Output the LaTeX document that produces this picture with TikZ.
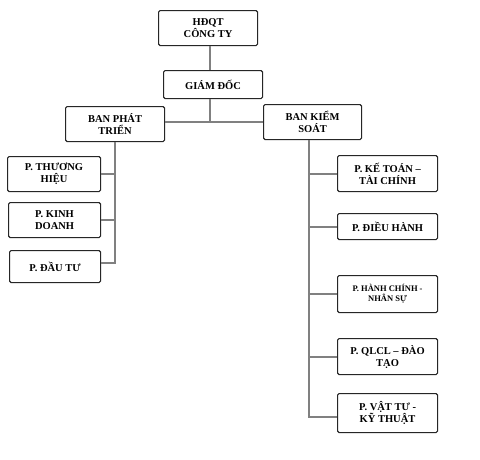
\documentclass[tikz,border=0pt]{standalone}
\usepackage{fontspec}
\setmainfont{Liberation Serif}
\begin{document}
\begin{tikzpicture}[x=1pt,y=-1pt,
  box/.style={draw=black!85,line width=1.1pt,rounded corners=1.5pt,fill=white,
    font=\bfseries\fontsize{10.5}{12}\selectfont,align=center,inner sep=0pt,anchor=north west},
  link/.style={draw=black!50,line width=2pt}]
\useasboundingbox[fill=white] (0,0) rectangle (480,459);
% connector coordinates
\coordinate (top) at (210,44);
\coordinate (mid) at (210,122);
\coordinate (lt) at (115,263);
\coordinate (rb) at (309,417);
% nodes
\node[box,minimum width=99pt,minimum height=35pt] (hdqt) at (158,10) {HĐQT\\CÔNG TY};
\node[box,minimum width=99pt,minimum height=28pt] (gd) at (163,70) {GIÁM ĐỐC};
\node[box,minimum width=99pt,minimum height=35pt] (bpt) at (65,106) {BAN PHÁT\\TRIỂN};
\node[box,minimum width=98pt,minimum height=35pt] (bks) at (263,104) {BAN KIỂM\\SOÁT};
\node[box,minimum width=93pt,minimum height=35pt] (th) at (7,156) {P. THƯƠNG\\HIỆU};
\node[box,minimum width=92pt,minimum height=35pt] (kd) at (8,202) {P. KINH\\DOANH};
\node[box,minimum width=91pt,minimum height=32pt] (dt) at (9,250) {P. ĐẦU TƯ};
\node[box,minimum width=100pt,minimum height=36pt] (kt) at (337,155) {P. KẾ TOÁN –\\TÀI CHÍNH};
\node[box,minimum width=100pt,minimum height=26pt] (dh) at (337,213) {P. ĐIỀU HÀNH};
\node[box,minimum width=100pt,minimum height=37pt,font=\bfseries\fontsize{8.5}{10}\selectfont] (hc) at (337,275) {P. HÀNH CHÍNH -\\NHÂN SỰ};
\node[box,minimum width=100pt,minimum height=36pt] (ql) at (337,338) {P. QLCL – ĐÀO\\TẠO};
\node[box,minimum width=100pt,minimum height=39pt] (vt) at (337,393) {P. VẬT TƯ -\\KỸ THUẬT};
% connectors
\draw[link] (top |- hdqt.south) -- (top |- gd.north);
\draw[link] (mid |- gd.south) -- (mid);
\draw[link] (bpt.east |- mid) -- (bks.west |- mid);
\draw[link] (bpt.south -| lt) -- (lt) -- (dt.east |- lt);
\draw[link] (th.east) -- (th.east -| lt);
\draw[link] (kd.east) -- (kd.east -| lt);
\draw[link] (bks.south -| rb) -- (rb) -- (vt.west |- rb);
\draw[link] (kt.west) -- (kt.west -| rb);
\draw[link] (dh.west) -- (dh.west -| rb);
\draw[link] (hc.west) -- (hc.west -| rb);
\draw[link] (ql.west) -- (ql.west -| rb);
\end{tikzpicture}
\end{document}
